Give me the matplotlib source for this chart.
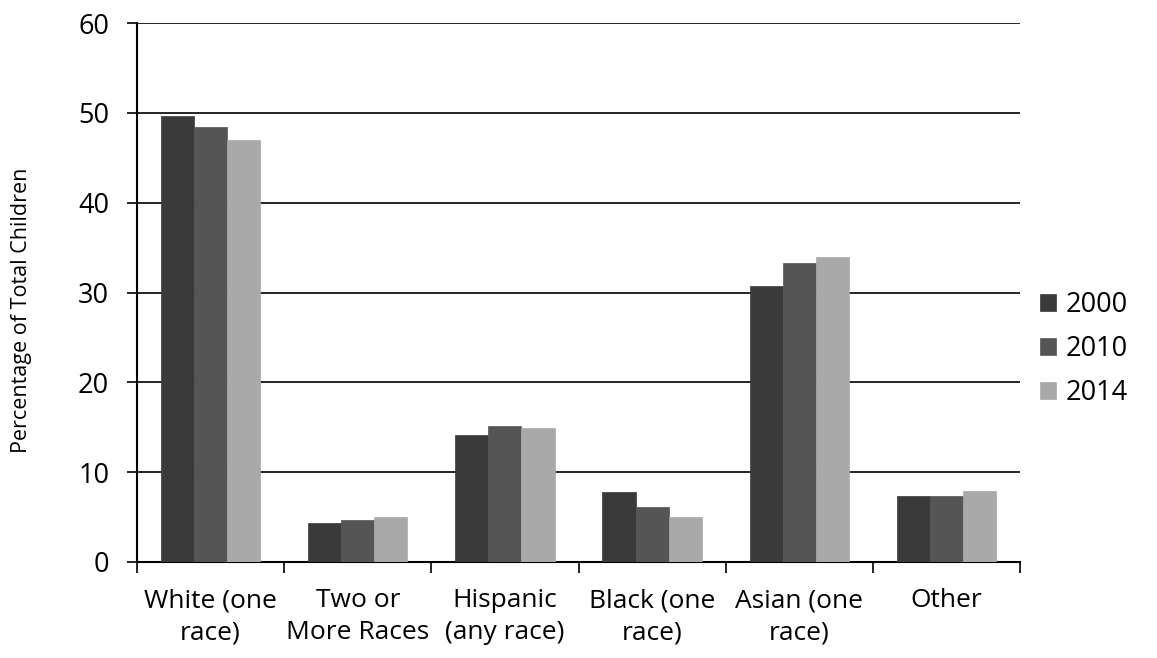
import matplotlib
matplotlib.use("Agg")
import matplotlib.pyplot as plt
import numpy as np

categories = ["White (one\nrace)", "Two or\nMore Races", "Hispanic\n(any race)",
              "Black (one\nrace)", "Asian (one\nrace)", "Other"]
years = ["2000", "2010", "2014"]
v2000 = [49.6, 4.3, 14.1, 7.8, 30.7, 7.3]
v2010 = [48.4, 4.7, 15.1, 6.1, 33.3, 7.4]
v2014 = [47.0, 5.0, 14.9, 5.0, 33.9, 7.9]
yticks = [0, 10, 20, 30, 40, 50, 60]

colors = ["#3a3a3a", "#555555", "#a9a9a9"]

plt.rcParams['font.family'] = ['Open Sans', 'DejaVu Sans']

fig = plt.figure(figsize=(11.57, 6.58), dpi=100)
ax = fig.add_axes([137/1157, 1 - 562/658, (1020-137)/1157, (562-23)/658])

x = np.arange(len(categories))
w = 0.225
for i, (vals, c) in enumerate(zip([v2000, v2010, v2014], colors)):
    ax.bar(x + (i - 1) * w, vals, width=w, color=c, edgecolor=c, linewidth=0.5,
           label=years[i], zorder=3)

ax.set_xlim(-0.5, len(categories) - 0.5)
ax.set_ylim(0, 60)
ax.set_yticks(yticks)
ax.set_yticklabels([str(t) for t in yticks], fontsize=19.5)
ax.yaxis.grid(True, color="black", linewidth=1.2, zorder=0)
ax.set_axisbelow(True)

ax.set_xticks(np.arange(-0.5, len(categories)), minor=False)
ax.set_xticklabels([])
ax.set_xticks(x, minor=True)
ax.set_xticklabels(categories, minor=True, fontsize=19, linespacing=1.35)
ax.tick_params(axis='x', which='minor', length=0, pad=19)
ax.tick_params(axis='x', which='major', length=8, width=1.2, direction='out')
ax.tick_params(axis='y', length=7, width=1.2, direction='out', pad=13)

for s in ['top', 'right']:
    ax.spines[s].set_visible(False)
ax.spines['left'].set_linewidth(1.5)
ax.spines['bottom'].set_linewidth(1.5)

ax.set_ylabel("Percentage of Total Children", fontsize=15.5, va='center')
ax.yaxis.set_label_coords((22 - 137) / 883, (562 - 310) / 539)

leg = ax.legend(loc='center left', bbox_to_anchor=(1.01, 0.395), frameon=False,
                fontsize=19.5, handlelength=0.6, handleheight=0.6,
                handletextpad=0.35, labelspacing=0.6, borderaxespad=0)

fig.savefig("out.png", dpi=100)
